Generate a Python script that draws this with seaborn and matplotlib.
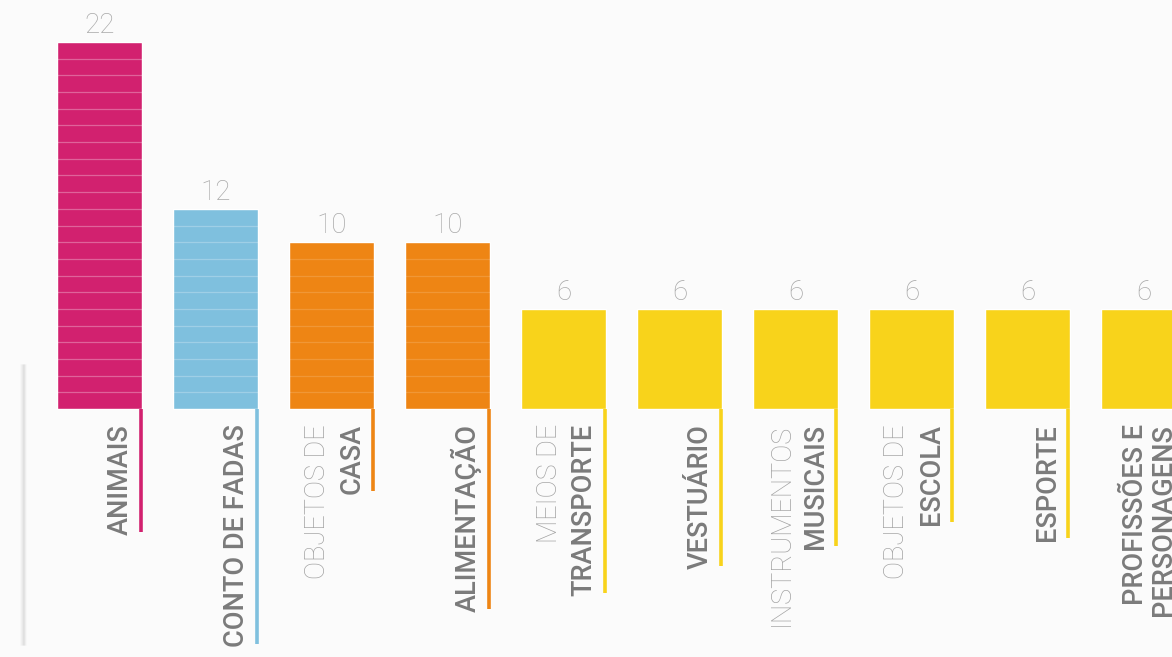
import matplotlib
matplotlib.use('Agg')
import matplotlib.pyplot as plt
from matplotlib.lines import Line2D
import seaborn as sns

# data
categories = ['ANIMAIS', 'CONTO DE FADAS', 'CASA', 'ALIMENTAÇÃO', 'TRANSPORTE',
              'VESTUÁRIO', 'MUSICAIS', 'ESCOLA', 'ESPORTE', 'PROFISSÕES E\nPERSONAGENS']
light_lines = ['', '', 'OBJETOS DE', '', 'MEIOS DE', '', 'INSTRUMENTOS', 'OBJETOS DE', '', '']
counts = [22, 12, 10, 10, 6, 6, 6, 6, 6, 6]
colors = ['#d2216f', '#7fc0de', '#ee8514', '#ee8514', '#f8d31b',
          '#f8d31b', '#f8d31b', '#f8d31b', '#f8d31b', '#f8d31b']
stripe_alpha = {'#d2216f': 0.3, '#7fc0de': 0.25, '#ee8514': 0.15, '#f8d31b': 0.0}

sns.set_theme(style='white')
plt.rcParams['font.family'] = ['Roboto', 'DejaVu Sans']

bg = '#fbfbfb'
fig = plt.figure(figsize=(11.72, 6.57), dpi=100, facecolor=bg)
ax = fig.add_axes([0, 0, 1, 1])
ax.set_facecolor(bg)

bar_w = 0.733
sns.barplot(x=categories, y=counts, hue=categories, palette=colors, width=bar_w,
            saturation=1, legend=False, ax=ax, zorder=2)

ax.set_xlim(-0.858, 9.246)
ax.set_ylim(-14.87, 24.52)
ax.axis('off')

# thin unit stripes inside each bar
for i, v in enumerate(counts):
    a = stripe_alpha[colors[i]]
    if a > 0:
        ax.hlines(range(1, v), i - bar_w / 2, i + bar_w / 2, color='white',
                  lw=0.9, alpha=a, zorder=3)
    ax.annotate(str(v), (i, v), xytext=(0, 2), textcoords='offset points',
                ha='center', va='bottom', fontsize=20, fontweight='light',
                color='#a9a9a9', annotation_clip=False)

px = 1 / 116  # data units per pixel in x
main_texts = []
for i, (main, light) in enumerate(zip(categories, light_lines)):
    line_x = i + bar_w / 2 - 1.5 * px
    t = ax.annotate(main, (line_x, 0), xytext=(-7, -15), textcoords='offset pixels',
                    rotation=90, rotation_mode='anchor', ha='right', va='bottom',
                    fontsize=19.5, fontweight='medium', color='#7b7b7b',
                    linespacing=1.05, annotation_clip=False)
    main_texts.append((t, line_x, colors[i]))
    if light:
        ax.annotate(light, (line_x, 0), xytext=(-42, -15), textcoords='offset pixels',
                    rotation=90, rotation_mode='anchor', ha='right', va='bottom',
                    fontsize=19.5, fontweight='light', color='#a3a3a3',
                    annotation_clip=False)

# coloured tails run down to the end of the main label
fig.canvas.draw()
inv = ax.transData.inverted()
for t, line_x, c in main_texts:
    bb = t.get_window_extent()
    y_end = inv.transform((0, bb.y0 + 3))[1]
    ax.vlines(line_x, y_end, 0, color=c, lw=2.6, zorder=2)

# soft shadow on the left edge
for k, a in enumerate([0.03, 0.06, 0.1, 0.14, 0.08, 0.03]):
    fig.add_artist(Line2D([(21 + k) / 1172] * 2, [1 - 365 / 657, 1 - 645 / 657],
                          color='#777777', alpha=a, lw=1.2))

fig.savefig('out.png', dpi=100, facecolor=bg)
